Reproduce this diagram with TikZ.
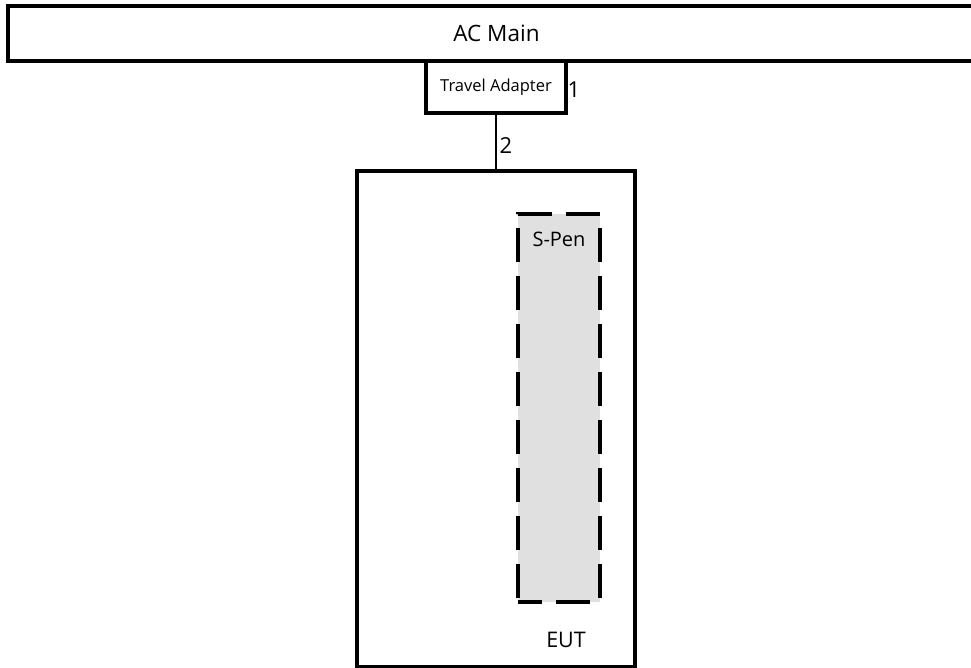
\documentclass[tikz,border=0pt]{standalone}
\usepackage{fontspec}
\setmainfont{Open Sans}
\usepackage{tikz}

\tikzset{
  unitbox/.style={draw, line width=3.5pt, inner sep=0pt},
  penbox/.style={draw, line width=4pt, fill=black!12, inner sep=0pt,
    dash pattern=on 34pt off 14pt, dash phase=10pt},
  cable/.style={line width=1.3pt},
  portlabel/.style={inner sep=0pt, font=\fontsize{22}{26}\selectfont}
}

\begin{document}
\begin{tikzpicture}[x=1pt,y=-1pt]
    \useasboundingbox (0,0) rectangle (971,667);
    \node[unitbox, minimum width=977pt, minimum height=55pt,
      font=\fontsize{22.5}{27}\selectfont] (acmain) at (496.5,33.5) {AC Main};
    \node[unitbox, minimum width=140pt, minimum height=52pt,
      font=\fontsize{16.5}{20}\selectfont] (adapter) at (496,87) {Travel Adapter};
    \node[unitbox, minimum width=278pt, minimum height=496pt] (eut) at (496,419) {};
    \node[penbox, minimum width=82pt, minimum height=388pt] (spen) at (559,408) {};
    \node[inner sep=0pt, font=\fontsize{20}{24}\selectfont] (spenlabel) at (559,239) {S-Pen};
    \node[inner sep=0pt, font=\fontsize{21.5}{25}\selectfont] (eutlabel) at (566,640) {EUT};
    \draw[cable] (adapter.south) -- (eut.north);
    \node[portlabel] (portone) at (574,90) {1};
    \node[portlabel] (porttwo) at (506,146) {2};
  \end{tikzpicture}
\end{document}
